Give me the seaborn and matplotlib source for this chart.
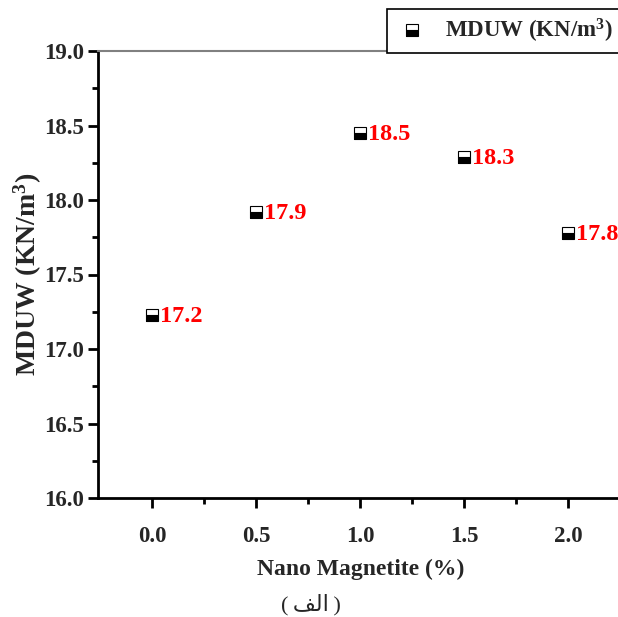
import matplotlib
matplotlib.use("Agg")
import matplotlib.pyplot as plt
import seaborn as sns
import pandas as pd

nano = [0.0, 0.5, 1.0, 1.5, 2.0]
mduw = [17.23, 17.92, 18.45, 18.29, 17.78]
labels = ["17.2", "17.9", "18.5", "18.3", "17.8"]
xticks = [0.0, 0.5, 1.0, 1.5, 2.0]
yticks = [16.0, 16.5, 17.0, 17.5, 18.0, 18.5, 19.0]

sns.set_style("ticks")
plt.rcParams['font.family'] = ['Liberation Serif', 'DejaVu Sans']
plt.rcParams['font.weight'] = 'bold'
plt.rcParams['mathtext.fontset'] = 'custom'
plt.rcParams['mathtext.rm'] = 'Liberation Serif:bold'
plt.rcParams['mathtext.bf'] = 'Liberation Serif:bold'
plt.rcParams['mathtext.it'] = 'Liberation Serif:bold'

df = pd.DataFrame({"x": nano, "y": mduw})

fig = plt.figure(figsize=(6.18, 6.17), dpi=100)
ax = fig.add_axes([98/618, 119/617, 1 - 98/618 + 0.01, (498-51)/617])

sns.lineplot(data=df, x="x", y="y", ax=ax, linestyle="", marker="s",
             markersize=9, color="black", markerfacecolor="black",
             markerfacecoloralt="white", markeredgecolor="black",
             markeredgewidth=0.8, fillstyle="bottom",
             label="MDUW (KN/m$^{3}$)", legend=False)

for xv, yv, t in zip(nano, mduw, labels):
    ax.annotate(t, (xv, yv), xytext=(6, -1), textcoords="offset points",
                color="red", fontsize=17.5, fontweight="bold", va="center", ha="left")

ax.set_xlim(-0.26, 2.27)
ax.set_ylim(16.0, 19.0)
ax.set_xticks(xticks)
ax.set_yticks(yticks)
ax.set_xticks([0.25, 0.75, 1.25, 1.75], minor=True)
ax.set_yticks([16.25, 16.75, 17.25, 17.75, 18.25, 18.75], minor=True)
ax.set_xticklabels([f"{v:.1f}" for v in xticks], fontsize=16.5, fontweight="bold")
ax.set_yticklabels([f"{v:.1f}" for v in yticks], fontsize=16.5, fontweight="bold")
ax.tick_params(axis="both", which="major", direction="out", length=7, width=2, color="black", pad=3)
ax.tick_params(axis="both", which="minor", direction="out", length=4, width=2, color="black")
ax.tick_params(axis="x", which="major", pad=13)

for s in ["left", "bottom"]:
    ax.spines[s].set_linewidth(2)
    ax.spines[s].set_color("black")
ax.spines["right"].set_visible(False)
ax.spines["top"].set_visible(True)
ax.spines["top"].set_color("#808080")
ax.spines["top"].set_linewidth(1.5)

ax.set_xlabel("Nano Magnetite (%)", fontsize=17, fontweight="bold", labelpad=9)
ax.set_ylabel("MDUW (KN/m$^{3}$)", fontsize=20, fontweight="bold", labelpad=0)

handles, lbls = ax.get_legend_handles_labels()
leg = fig.legend(handles, lbls, loc="upper left", bbox_to_anchor=(387/618, 1 - 9/617),
                 frameon=True, fancybox=False, framealpha=1, edgecolor="black",
                 prop={"family": "Liberation Serif", "weight": "bold", "size": 16.5},
                 borderpad=0.35, handletextpad=0.7, handlelength=1.5, borderaxespad=0)
leg.get_frame().set_linewidth(1.2)

fig.text(311/618, 1 - 605/617, "(\u2009\uFED2\uFEDF\uFE8D\u2009)", ha="center", va="center",
         fontsize=16, family=["Liberation Serif", "DejaVu Sans"], fontweight="normal")

fig.savefig("out.png", dpi=100)
